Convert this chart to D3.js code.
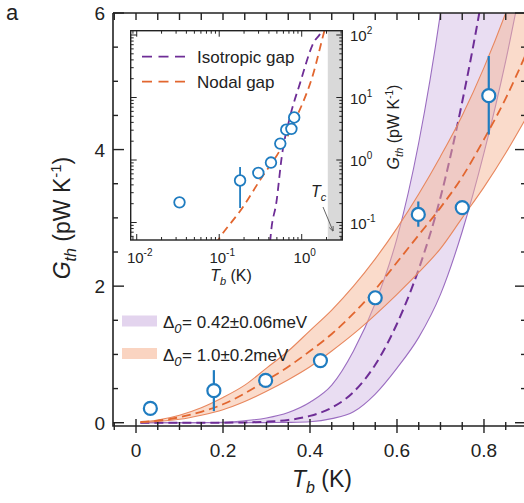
<!DOCTYPE html>
<html><head><meta charset="utf-8">
<script src="https://cdn.jsdelivr.net/npm/d3@7"></script>
<style>body{margin:0;background:#fff}svg{display:block}text{font-family:"Liberation Sans",Arial,sans-serif;fill:#222}</style>
</head><body><svg id="c" width="524" height="503"></svg>
<script>
// ---------- data ----------
const tempMeasured = [0.033, 0.179, 0.298, 0.424, 0.550, 0.649, 0.750, 0.811];
const gMeasured    = [0.21, 0.47, 0.62, 0.91, 1.83, 3.05, 3.15, 4.79];
const gErrLow      = [0.21, 0.17, 0.62, 0.91, 1.83, 2.87, 3.15, 4.22];
const gErrHigh     = [0.21, 0.77, 0.62, 0.91, 1.83, 3.24, 3.15, 5.37];

const tempModel = [0.01,0.05,0.1,0.15,0.2,0.25,0.3,0.35,0.4,0.45,0.5,0.55,0.6,0.65,0.7,0.75,0.8,0.85,0.9];
const nodalMid  = [0.01,0.03,0.08,0.16,0.27,0.43,0.62,0.82,1.05,1.3,1.6,1.95,2.35,2.75,3.15,3.6,4.15,4.75,5.45];
const nodalHigh = [0.01,0.04,0.11,0.22,0.37,0.55,0.8,1.05,1.35,1.65,2.0,2.4,2.85,3.35,3.9,4.5,5.2,6.0,6.9];
const nodalLow  = [0.005,0.02,0.05,0.11,0.19,0.31,0.46,0.63,0.82,1.05,1.3,1.58,1.88,2.2,2.55,3.0,3.45,3.95,4.5];
const isoMid    = [0,0,0,0,0.001,0.005,0.015,0.04,0.1,0.22,0.45,0.85,1.45,2.25,3.3,4.7,6.4,8.5,11];
const isoHigh   = [0,0,0,0.002,0.008,0.03,0.07,0.15,0.3,0.55,1.05,1.75,2.7,4.1,6.0,8.5,11.5,15,19];
const isoLow    = [0,0,0,0,0,0,0.002,0.005,0.015,0.06,0.16,0.42,0.8,1.25,1.88,2.8,3.95,5.3,6.9];

const insetNodalT = [0.09, 0.0975, 0.196, 0.313, 0.546, 0.869, 1.38, 1.86, 2.1];
const insetNodalG = [0.045, 0.053, 0.18, 0.48, 1.44, 4.9, 24, 110, 200];
const insetIsoT   = [0.405, 0.416, 0.498, 0.573, 0.721, 0.955, 1.38, 1.75, 1.9];
const insetIsoG   = [0.03, 0.052, 0.23, 1.13, 4.9, 17, 74, 120, 170];
const tcRange = [2.07, 3.2];

const xTickValues = [0, 0.2, 0.4, 0.6, 0.8];
const xTickLabels = ["0", "0.2", "0.4", "0.6", "0.8"];
const yTickValues = [0, 2, 4, 6];
const yTickLabels = ["0", "2", "4", "6"];
const insetXTicks = [0.01, 0.1, 1];
const insetXExp = ["-2", "-1", "0"];
const insetYTicks = [0.1, 1, 10, 100];
const insetYExp = ["-1", "0", "1", "2"];
const legendValues = ["= 0.42±0.06meV", "= 1.0±0.2meV"];
const insetLegend = ["Isotropic gap", "Nodal gap"];

// ---------- colours ----------
const purpleFill = "rgb(200,170,222)", purpleLine = "#9a6cc0", purpleDash = "#6e2d96";
const orangeFill = "rgb(246,184,152)", orangeLine = "#e8875e", orangeDash = "#e2662f";
const blue = "#1f7cc0";

const svg = d3.select("#c");
svg.append("rect").attr("width",524).attr("height",503).attr("fill","#fff");

// ---------- main scales ----------
const x = d3.scaleLinear().domain([-0.0529, 0.8966]).range([113, 526]);
const y = d3.scaleLinear().domain([-0.048, 6]).range([426, 13]);

svg.append("clipPath").attr("id","mclip").append("rect")
  .attr("x",113).attr("y",13).attr("width",413).attr("height",413);
const plot = svg.append("g").attr("clip-path","url(#mclip)");

const model = tempModel.map((t,i)=>({t, nm:nodalMid[i], nh:nodalHigh[i], nl:nodalLow[i], im:isoMid[i], ih:isoHigh[i], il:isoLow[i]}));
const cur = d3.curveMonotoneX;
const area = (lo,hi)=>d3.area().x(d=>x(d.t)).y0(d=>y(d[lo])).y1(d=>y(d[hi])).curve(cur);
const line = k=>d3.line().x(d=>x(d.t)).y(d=>y(d[k])).curve(cur);

// purple band
plot.append("path").attr("d",area("il","ih")(model)).attr("fill",purpleFill).attr("fill-opacity",0.4);
plot.append("path").attr("d",line("ih")(model)).attr("fill","none").attr("stroke",purpleLine).attr("stroke-width",1.1);
plot.append("path").attr("d",line("il")(model)).attr("fill","none").attr("stroke",purpleLine).attr("stroke-width",1.1);
plot.append("path").attr("d",line("im")(model)).attr("fill","none").attr("stroke",purpleDash).attr("stroke-width",2).attr("stroke-dasharray","9,5");
// orange band
plot.append("path").attr("d",area("nl","nh")(model)).attr("fill",orangeFill).attr("fill-opacity",0.5);
plot.append("path").attr("d",line("nh")(model)).attr("fill","none").attr("stroke",orangeLine).attr("stroke-width",1.1);
plot.append("path").attr("d",line("nl")(model)).attr("fill","none").attr("stroke",orangeLine).attr("stroke-width",1.1);
plot.append("path").attr("d",line("nm")(model)).attr("fill","none").attr("stroke",orangeDash).attr("stroke-width",1.8).attr("stroke-dasharray","9,5");

// main data
const pts = tempMeasured.map((t,i)=>({t,g:gMeasured[i],lo:gErrLow[i],hi:gErrHigh[i]}));
svg.selectAll(".eb").data(pts.filter(d=>d.hi>d.lo)).join("line")
  .attr("x1",d=>x(d.t)).attr("x2",d=>x(d.t)).attr("y1",d=>y(d.lo)).attr("y2",d=>y(d.hi))
  .attr("stroke",blue).attr("stroke-width",2.2);
svg.selectAll(".pt").data(pts).join("circle")
  .attr("cx",d=>x(d.t)).attr("cy",d=>y(d.g)).attr("r",6.5)
  .attr("fill","#fff").attr("stroke",blue).attr("stroke-width",2.2);

// main frame
const ax = svg.append("g").attr("stroke","#222").attr("fill","none");
ax.append("path").attr("d","M113,13V426H526M113,13H526V426").attr("stroke-width",1.6);
d3.range(-0.05,0.9001,0.05).forEach(v=>{
  const major = xTickValues.some(m=>Math.abs(m-v)<1e-6);
  ax.append("line").attr("x1",x(v)).attr("x2",x(v)).attr("y1",major?419:422).attr("y2",major?433:430).attr("stroke-width",1.4);
  ax.append("line").attr("x1",x(v)).attr("x2",x(v)).attr("y1",13).attr("y2",20).attr("stroke-width",1.4);
});
d3.range(0,6.001,0.5).forEach(v=>{
  const major = yTickValues.some(m=>Math.abs(m-v)<1e-6);
  ax.append("line").attr("x1",113).attr("x2",major?124:118).attr("y1",y(v)).attr("y2",y(v)).attr("stroke-width",1.4);
  ax.append("line").attr("x1",526).attr("x2",major?515:521).attr("y1",y(v)).attr("y2",y(v)).attr("stroke-width",1.4);
});
svg.selectAll(".xl").data(xTickValues).join("text")
  .attr("x",d=>x(d)).attr("y",457).attr("text-anchor","middle").attr("font-size",19)
  .text((d,i)=>xTickLabels[i]);
svg.selectAll(".yl").data(yTickValues).join("text")
  .attr("x",105).attr("y",d=>y(d)+7).attr("text-anchor","end").attr("font-size",19)
  .text((d,i)=>yTickLabels[i]);

// axis titles
const xt = svg.append("text").attr("x",322).attr("y",487).attr("text-anchor","middle").attr("font-size",23);
xt.append("tspan").attr("font-style","italic").text("T");
xt.append("tspan").attr("font-style","italic").attr("font-size",16).attr("dy",6).text("b");
xt.append("tspan").attr("dy",-6).text(" (K)");
const yt = svg.append("text").attr("transform","translate(70,218) rotate(-90)").attr("text-anchor","middle").attr("font-size",23);
yt.append("tspan").attr("font-style","italic").text("G");
yt.append("tspan").attr("font-style","italic").attr("font-size",16).attr("dy",6).text("th");
yt.append("tspan").attr("dy",-6).text("  (pW K");
yt.append("tspan").attr("font-size",15).attr("dy",-9).text("-1");
yt.append("tspan").attr("dy",9).text(")");

svg.append("text").attr("x",6).attr("y",20).attr("font-size",22).text("a");

// main legend
const leg = [{c:purpleFill,o:0.5,y:321},{c:orangeFill,o:0.6,y:353.5}];
leg.forEach((l,i)=>{
  svg.append("rect").attr("x",122).attr("y",l.y-5.5).attr("width",35).attr("height",11).attr("fill",l.c).attr("fill-opacity",l.o);
  const t = svg.append("text").attr("x",163).attr("y",l.y+7).attr("font-size",17);
  t.append("tspan").text("Δ");
  t.append("tspan").attr("font-style","italic").attr("font-size",13).attr("dy",5).text("0");
  t.append("tspan").attr("dy",-5).attr("dx",0.5).text(legendValues[i]);
});

// ---------- inset ----------
const xi = d3.scaleLog().domain([Math.pow(10,-2.073), Math.pow(10,0.492)]).range([130.7, 342.3]);
const yi = d3.scaleLog().domain([Math.pow(10,-1.28), Math.pow(10,2.069)]).range([240, 30.7]);
const ins = svg.append("g");
ins.append("rect").attr("x",130.7).attr("y",30.7).attr("width",211.6).attr("height",209.3).attr("fill","#fff");
ins.append("clipPath").attr("id","iclip").append("rect").attr("x",130.7).attr("y",30.7).attr("width",211.6).attr("height",209.3);
const ip = ins.append("g").attr("clip-path","url(#iclip)");
ip.append("rect").attr("x",xi(tcRange[0])).attr("y",30.7).attr("width",xi(tcRange[1])-xi(tcRange[0])).attr("height",209.3).attr("fill","#d9d9d9");
const li = d3.line().x(d=>xi(d[0])).y(d=>yi(d[1])).curve(d3.curveMonotoneX);
ip.append("path").attr("d",li(insetIsoT.map((t,i)=>[t,insetIsoG[i]]))).attr("fill","none").attr("stroke",purpleDash).attr("stroke-width",1.8).attr("stroke-dasharray","8,5");
ip.append("path").attr("d",li(insetNodalT.map((t,i)=>[t,insetNodalG[i]]))).attr("fill","none").attr("stroke",orangeDash).attr("stroke-width",1.8).attr("stroke-dasharray","8,5");
ip.selectAll(".ieb").data(pts.filter(d=>d.hi>d.lo && d.t<0.3)).join("line")
  .attr("x1",d=>xi(d.t)).attr("x2",d=>xi(d.t)).attr("y1",d=>yi(d.lo)).attr("y2",d=>yi(d.hi))
  .attr("stroke",blue).attr("stroke-width",1.8);
ip.selectAll(".ipt").data(pts).join("circle")
  .attr("cx",d=>xi(d.t)).attr("cy",d=>yi(d.g)).attr("r",5.3)
  .attr("fill","#fff").attr("stroke",blue).attr("stroke-width",1.8);

const ia = ins.append("g").attr("stroke","#222").attr("fill","none");
ia.append("rect").attr("x",130.7).attr("y",30.7).attr("width",211.6).attr("height",209.3).attr("stroke-width",1.4);
[-3,-2,-1,0].forEach(e=>{
  for(let m=1;m<10;m++){
    const v = m*Math.pow(10,e);
    if(v<xi.domain()[0]||v>xi.domain()[1]) continue;
    const L = m===1?6:3;
    ia.append("line").attr("x1",xi(v)).attr("x2",xi(v)).attr("y1",240).attr("y2",240-L).attr("stroke-width",1);
    ia.append("line").attr("x1",xi(v)).attr("x2",xi(v)).attr("y1",30.7).attr("y2",30.7+L).attr("stroke-width",1);
  }
});
[-2,-1,0,1,2].forEach(e=>{
  for(let m=1;m<10;m++){
    const v = m*Math.pow(10,e);
    if(v<yi.domain()[0]||v>yi.domain()[1]) continue;
    const L = m===1?6:3;
    ia.append("line").attr("x1",130.7).attr("x2",130.7+L).attr("y1",yi(v)).attr("y2",yi(v)).attr("stroke-width",1);
    ia.append("line").attr("x1",342.3).attr("x2",342.3-L).attr("y1",yi(v)).attr("y2",yi(v)).attr("stroke-width",1);
  }
});
insetXTicks.forEach((v,i)=>{
  const t = ins.append("text").attr("x",xi(v)+3).attr("y",263).attr("text-anchor","middle").attr("font-size",15).attr("fill","#333");
  t.append("tspan").text("10");
  t.append("tspan").attr("font-size",10).attr("dy",-7).text(insetXExp[i]);
});
insetYTicks.forEach((v,i)=>{
  const t = ins.append("text").attr("x",350).attr("y",yi(v)+6).attr("font-size",15).attr("fill","#333");
  t.append("tspan").text("10");
  t.append("tspan").attr("font-size",10).attr("dy",-7).text(insetYExp[i]);
});
const ixt = ins.append("text").attr("x",231).attr("y",281).attr("text-anchor","middle").attr("font-size",16);
ixt.append("tspan").attr("font-style","italic").text("T");
ixt.append("tspan").attr("font-style","italic").attr("font-size",11).attr("dy",4).text("b");
ixt.append("tspan").attr("dy",-4).text(" (K)");
const iyt = ins.append("text").attr("transform","translate(399,127) rotate(-90)").attr("text-anchor","middle").attr("font-size",16);
iyt.append("tspan").attr("font-style","italic").text("G");
iyt.append("tspan").attr("font-style","italic").attr("font-size",11).attr("dy",4).text("th");
iyt.append("tspan").attr("dy",-4).text("  (pW K");
iyt.append("tspan").attr("font-size",10).attr("dy",-6).text("-1");
iyt.append("tspan").attr("dy",6).text(")");

// inset legend
[[purpleDash,56.7],[orangeDash,81.7]].forEach((l,i)=>{
  ins.append("line").attr("x1",142).attr("x2",190).attr("y1",l[1]).attr("y2",l[1]).attr("stroke",l[0]).attr("stroke-width",1.8).attr("stroke-dasharray","10,6.5");
  ins.append("text").attr("x",197).attr("y",l[1]+6).attr("font-size",17).text(insetLegend[i]);
});
// Tc
const tc = ins.append("text").attr("x",311).attr("y",197).attr("font-size",16).attr("font-style","italic");
tc.append("tspan").text("T");
tc.append("tspan").attr("font-size",11).attr("dy",4).text("c");
svg.append("defs").append("marker").attr("id","ah").attr("viewBox","0 0 10 10").attr("refX",9).attr("refY",5)
  .attr("markerWidth",6).attr("markerHeight",6).attr("orient","auto")
  .append("path").attr("d","M0,1L10,5L0,9").attr("fill","none").attr("stroke","#555").attr("stroke-width",1.5);
ins.append("line").attr("x1",323).attr("y1",207).attr("x2",333).attr("y2",231).attr("stroke","#555").attr("stroke-width",0.9).attr("marker-end","url(#ah)");
</script></body></html>
